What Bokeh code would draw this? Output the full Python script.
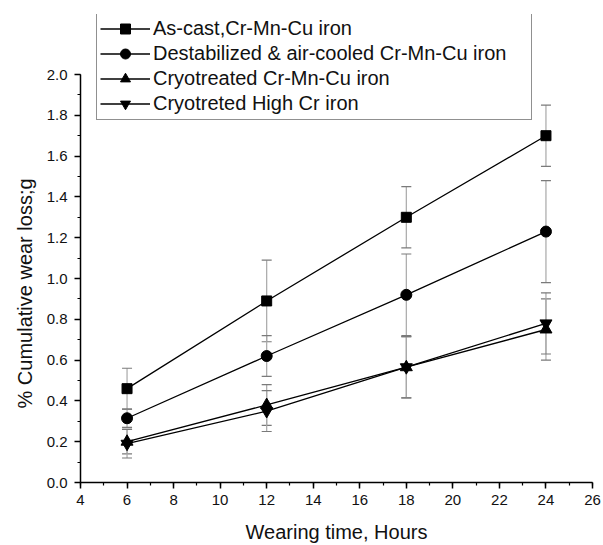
from bokeh.plotting import figure
from bokeh.models import (Whisker, ColumnDataSource, Legend, LegendItem, TeeHead,
                          SingleIntervalTicker, NumeralTickFormatter, Title)
from bokeh.embed import file_html
from bokeh.resources import INLINE

hours = [6, 12, 18, 24]
as_cast = [0.46, 0.89, 1.30, 1.70]
as_cast_err = [0.10, 0.20, 0.15, 0.15]
destab = [0.315, 0.62, 0.92, 1.23]
destab_err = [0.045, 0.10, 0.20, 0.25]
cryo_crmncu = [0.20, 0.38, 0.565, 0.75]
cryo_crmncu_err = [0.06, 0.10, 0.15, 0.15]
cryo_highcr = [0.19, 0.35, 0.565, 0.78]
cryo_highcr_err = [0.07, 0.10, 0.15, 0.15]
labels = ["As-cast,Cr-Mn-Cu iron",
          "Destabilized & air-cooled Cr-Mn-Cu iron",
          "Cryotreated Cr-Mn-Cu iron",
          "Cryotreted High Cr iron"]
markers = ["square", "circle", "triangle", "inverted_triangle"]
marker_sizes = [10, 11, 12, 12]
x_label = "Wearing time, Hours"
y_label = "% Cumulative wear loss;g"

FONT = "Liberation Sans"

# frame spans y = 14..482 px; data axis 0..2.0 occupies the lower 408 px
Y_TOP = 2.0 * 468 / 408

p = figure(width=603, height=545, output_backend="svg", toolbar_location=None,
           x_range=(4, 26), y_range=(0, Y_TOP),
           min_border_left=80, min_border_right=11, min_border_top=14, min_border_bottom=63)
p.xgrid.visible = False
p.ygrid.visible = False
p.outline_line_color = None

series = [(as_cast, as_cast_err), (destab, destab_err),
          (cryo_crmncu, cryo_crmncu_err), (cryo_highcr, cryo_highcr_err)]
items = []
for (vals, errs), lab, mk, ms in zip(series, labels, markers, marker_sizes):
    src = ColumnDataSource(dict(x=hours, y=vals,
                                lo=[v - e for v, e in zip(vals, errs)],
                                hi=[v + e for v, e in zip(vals, errs)]))
    w = Whisker(base="x", upper="hi", lower="lo", source=src,
                line_color="#a8a8a8", line_width=1.2, level="underlay",
                upper_head=TeeHead(size=10, line_color="#7a7a7a", line_width=1.2),
                lower_head=TeeHead(size=10, line_color="#7a7a7a", line_width=1.2))
    p.add_layout(w)
    r1 = p.line("x", "y", source=src, line_color="black", line_width=1.3)
    r2 = p.scatter("x", "y", source=src, marker=mk, size=ms,
                   fill_color="black", line_color="black")
    items.append(LegendItem(label=lab, renderers=[r1, r2]))

legend = Legend(items=items, location=(16, 362), orientation="vertical",
                label_text_font=FONT, label_text_font_size="20px",
                label_text_color="#111111",
                border_line_color="#222222", border_line_width=1.2,
                background_fill_alpha=1.0,
                glyph_width=50, glyph_height=25, label_standoff=3,
                spacing=0, padding=3, margin=0,
                label_height=25, label_width=375)
p.add_layout(legend, "center")

for ax in (p.xaxis[0], p.yaxis[0]):
    ax.axis_line_width = 1.5
    ax.major_tick_line_width = 1.5
    ax.minor_tick_line_width = 1.2
    ax.major_tick_in = 0
    ax.major_tick_out = 6
    ax.minor_tick_in = 0
    ax.minor_tick_out = 3
    ax.major_label_text_font = FONT
    ax.major_label_text_font_size = "15px"
    ax.major_label_text_color = "#111111"
    ax.axis_label_text_font = FONT
    ax.axis_label_text_font_size = "20px"
    ax.axis_label_text_font_style = "normal"
    ax.axis_label_text_color = "#111111"

p.xaxis.ticker = SingleIntervalTicker(interval=2, num_minor_ticks=2)
p.yaxis.ticker = SingleIntervalTicker(interval=0.2, num_minor_ticks=2)
p.yaxis.bounds = (0, 2.0)
p.yaxis.formatter = NumeralTickFormatter(format="0.0")
p.xaxis.axis_label = x_label
p.xaxis.major_label_standoff = 6
p.xaxis.axis_label_standoff = 13
p.yaxis.major_label_standoff = 7

# y-axis title placed along the 0..2.0 part of the frame
ytitle = Title(text=y_label, align="left", offset=74, vertical_align="bottom",
               text_font=FONT, text_font_size="20px", text_font_style="normal",
               text_color="#111111", standoff=16)
p.add_layout(ytitle, "left")

open("out.html", "w").write(file_html(p, INLINE))
